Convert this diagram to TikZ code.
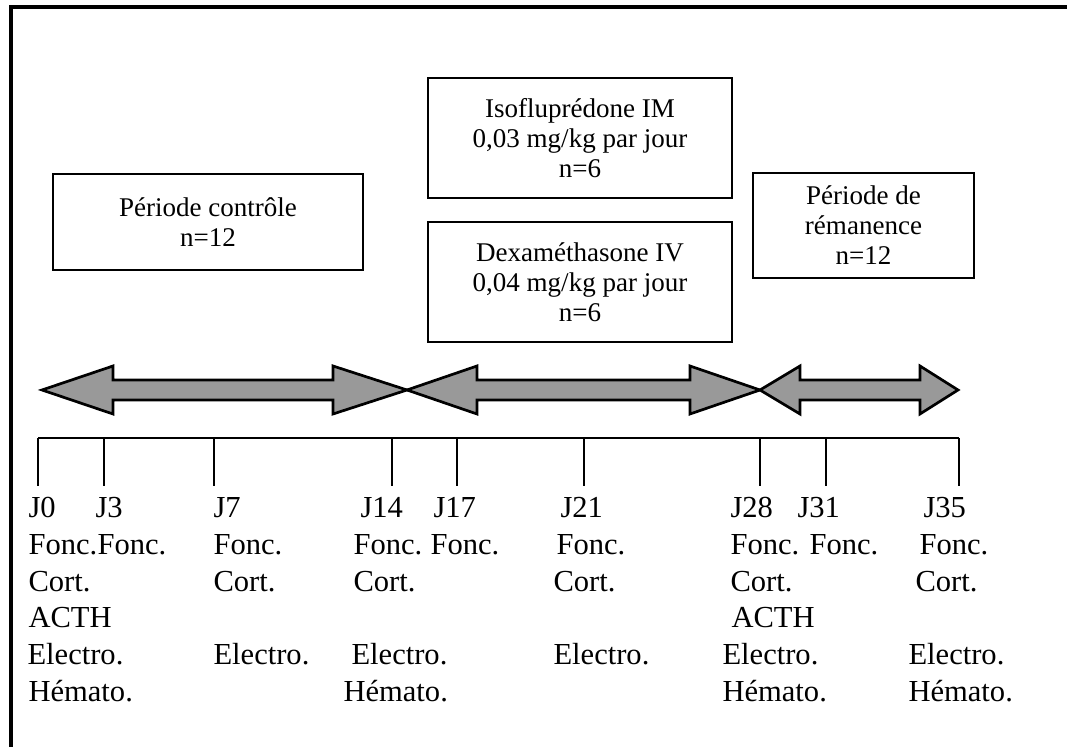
\documentclass[tikz,border=0pt]{standalone}
\usepackage{fontspec}
\setmainfont{Liberation Serif}
\usetikzlibrary{positioning}

% double-headed phase arrow: left tip, left base, right base, right tip
\newcommand{\phasearrow}[4]{%
  \filldraw[phase] (#1,390) -- (#2,366) -- (#2,380) -- (#3,380) -- (#3,366) -- (#4,390)
    -- (#3,414) -- (#3,400) -- (#2,400) -- (#2,414) -- cycle;}

\begin{document}
\begin{tikzpicture}[
    x=0.013cm, y=-0.013cm,
    period/.style={draw, line width=0.8pt, align=center, inner sep=0pt, font=\fontsize{10}{11.1}\selectfont},
    phase/.style={fill=black!40, draw=black, line width=1pt, line join=miter},
    axis/.style={line width=0.8pt},
    lab/.style={anchor=base west, inner sep=0pt, font=\fontsize{11.3}{13.7}\selectfont}
]
    \useasboundingbox (0,0) rectangle (1067,747);

    % Frame
    \draw[line width=1.5pt] (11,747) -- (11,7) -- (1067,7);

    % Period boxes
    \node[period, minimum width=4.03cm, minimum height=1.248cm] (ctrl) at (208,222) {P\'eriode contr\^ole\\n=12};
    \node[period, minimum width=3.952cm, minimum height=1.56cm] (iso) at (580,138) {Isoflupr\'edone IM\\0,03 mg/kg par jour\\n=6};
    \node[period, minimum width=3.952cm, minimum height=1.56cm] (dexa) at (580,282) {Dexam\'ethasone IV\\0,04 mg/kg par jour\\n=6};
    \node[period, minimum width=2.873cm, minimum height=1.365cm] (rema) at (863.5,225.5) {P\'eriode de\\r\'emanence\\n=12};

    % Phase arrows
    \phasearrow{42}{113}{333}{407}
    \phasearrow{407}{477}{690}{760}
    \phasearrow{760}{800}{920}{958}

    % Time axis
    \foreach \n/\x in {0/38, 3/104, 7/214, 14/392, 17/457, 21/584, 28/760, 31/826, 35/959} {
        \coordinate (top\n) at (\x,438);
        \coordinate (bot\n) at (\x,486);
        \draw[axis] (top\n) -- (bot\n);
    }
    \draw[axis] (top0) -- (top35);

    % Sampling labels
    \foreach \x/\t [count=\i] in {28/J0, 95/J3, 213/J7, 360/J14, 433/J17, 560/J21, 730/J28, 797/J31, 923/J35}
        \node[lab] (day\i) at (\x,518) {\t};
    \foreach \x [count=\i] in {28, 97, 213, 353, 430, 556, 730, 809, 919}
        \node[lab] (fonc\i) at (\x,555) {Fonc.};
    \foreach \x [count=\i] in {28, 213, 353, 553, 730, 915}
        \node[lab] (cort\i) at (\x,592) {Cort.};
    \foreach \x [count=\i] in {28, 731}
        \node[lab] (acth\i) at (\x,628) {ACTH};
    \foreach \x [count=\i] in {27, 213, 351, 553, 722, 908}
        \node[lab] (elec\i) at (\x,665) {Electro.};
    \foreach \x [count=\i] in {28, 343, 722, 908}
        \node[lab] (hema\i) at (\x,702) {H\'emato.};
\end{tikzpicture}
\end{document}
